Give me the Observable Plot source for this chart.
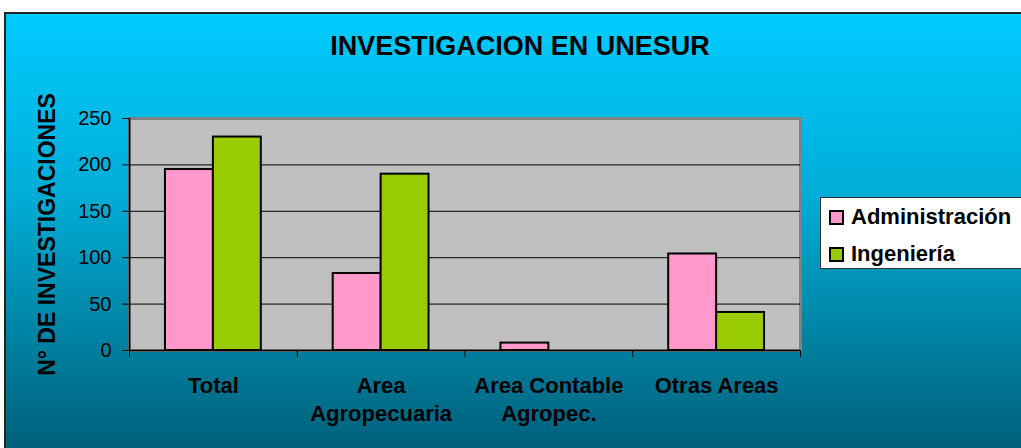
<!DOCTYPE html>
<html>
<head>
<meta charset="utf-8">
<script src="https://cdn.jsdelivr.net/npm/d3@7"></script>
<script src="https://cdn.jsdelivr.net/npm/@observablehq/plot@0.6"></script>
<style>
  html, body { margin: 0; padding: 0; background: #fff; }
  body { width: 1021px; height: 448px; position: relative; overflow: hidden;
         font-family: "Liberation Sans", Arial, sans-serif; }
  #frame { position: absolute; left: 4px; top: 12px; width: 1100px; height: 500px;
           border-left: 2px solid #222; border-top: 2px solid #222;
           background: linear-gradient(to bottom, #00CCFF 0px, #00ADD6 180px, #00607A 436px); }
  #title { position: absolute; left: 0; width: 1040px; top: 31px; line-height: 30px;
           text-align: center; font-weight: bold; font-size: 27px; color: #000; }
  #chart { position: absolute; left: 0; top: 88px; }
  #legend { position: absolute; left: 820px; top: 197px; width: 220px; height: 72px;
            background: #fff; border: 1.5px solid #333; box-sizing: border-box; }
  .item { position: absolute; left: 8px; height: 24px; display: flex; align-items: center;
          font-weight: bold; font-size: 22px; color: #000; white-space: nowrap; }
  .sw { width: 11px; height: 11px; border: 2px solid #000; margin-right: 7px; }
</style>
</head>
<body>
<div id="frame"></div>
<div id="title"></div>
<div id="chart"></div>
<div id="legend"></div>
<script>
const title = "INVESTIGACION EN UNESUR";
const yLabel = "N° DE INVESTIGACIONES";
const categories = ["Total", "Area\nAgropecuaria", "Area Contable\nAgropec.", "Otras Areas"];
const series = ["Administración", "Ingeniería"];
const administracion = [195, 83, 8, 104];
const ingenieria = [230, 190, 0, 41];
const seriesColors = ["#FF99CC", "#99CC00"];
const yTicks = [0, 50, 100, 150, 200, 250];

document.getElementById("title").textContent = title;

const values = [administracion, ingenieria];
const rows = [];
categories.forEach((c, i) => {
  series.forEach((s, j) => {
    const v = values[j][i];
    if (v > 0) rows.push({ cat: c, i, j, series: s, value: v });
  });
});

// Excel-like clustered layout: gap width 150% → each category band is 3.5 bar widths
const barW = 1 / 3.5;
const offset = 0.75 * barW;

const chart = Plot.plot({
  width: 810,
  height: 360,
  marginLeft: 129,
  marginRight: 10,
  marginTop: 30,
  marginBottom: 98,
  style: { background: "transparent", fontFamily: "'Liberation Sans', Arial, sans-serif",
           fontSize: "20px", color: "#000", overflow: "visible" },
  x: { domain: [0, categories.length], axis: null },
  y: { domain: [0, 250], axis: null },
  color: { domain: series, range: seriesColors },
  marks: [
    Plot.frame({ fill: "#C0C0C0", stroke: "#808080", strokeWidth: 3 }),
    Plot.ruleY(yTicks.filter(d => d > 0 && d < 250), { stroke: "#000", strokeWidth: 1 }),
    Plot.rectY(rows, {
      x1: d => d.i + offset + d.j * barW,
      x2: d => d.i + offset + (d.j + 1) * barW,
      y1: 0, y2: "value",
      fill: "series", stroke: "#000", strokeWidth: 2
    }),
    Plot.axisY({ ticks: yTicks, tickSize: 7, tickPadding: 11, fontSize: 20, label: null }),
    Plot.axisX({ ticks: d3.range(categories.length + 1), tickSize: 7, tickFormat: () => "", label: null }),
    Plot.ruleY([0], { stroke: "#000", strokeWidth: 1.5 }),
    Plot.ruleX([0], { y1: 0, y2: 250, stroke: "#000", strokeWidth: 1.5 }),
    Plot.text(categories, {
      x: (d, i) => i + 0.5, frameAnchor: "bottom", dy: 23, lineAnchor: "top",
      lineHeight: 1.27, fontWeight: "bold", fontSize: 22, fill: "#000"
    }),
    Plot.text([yLabel], {
      frameAnchor: "left", dx: -82, rotate: -90, textAnchor: "middle", lineAnchor: "middle",
      fontWeight: "bold", fontSize: 23, fill: "#000"
    })
  ]
});
document.getElementById("chart").appendChild(chart);

const legend = document.getElementById("legend");
series.forEach((s, j) => {
  const it = document.createElement("div");
  it.className = "item";
  it.style.top = (j === 0 ? 7 : 44) + "px";
  const sw = document.createElement("div");
  sw.className = "sw";
  sw.style.background = seriesColors[j];
  it.appendChild(sw);
  it.appendChild(document.createTextNode(s));
  legend.appendChild(it);
});
</script>
</body>
</html>
